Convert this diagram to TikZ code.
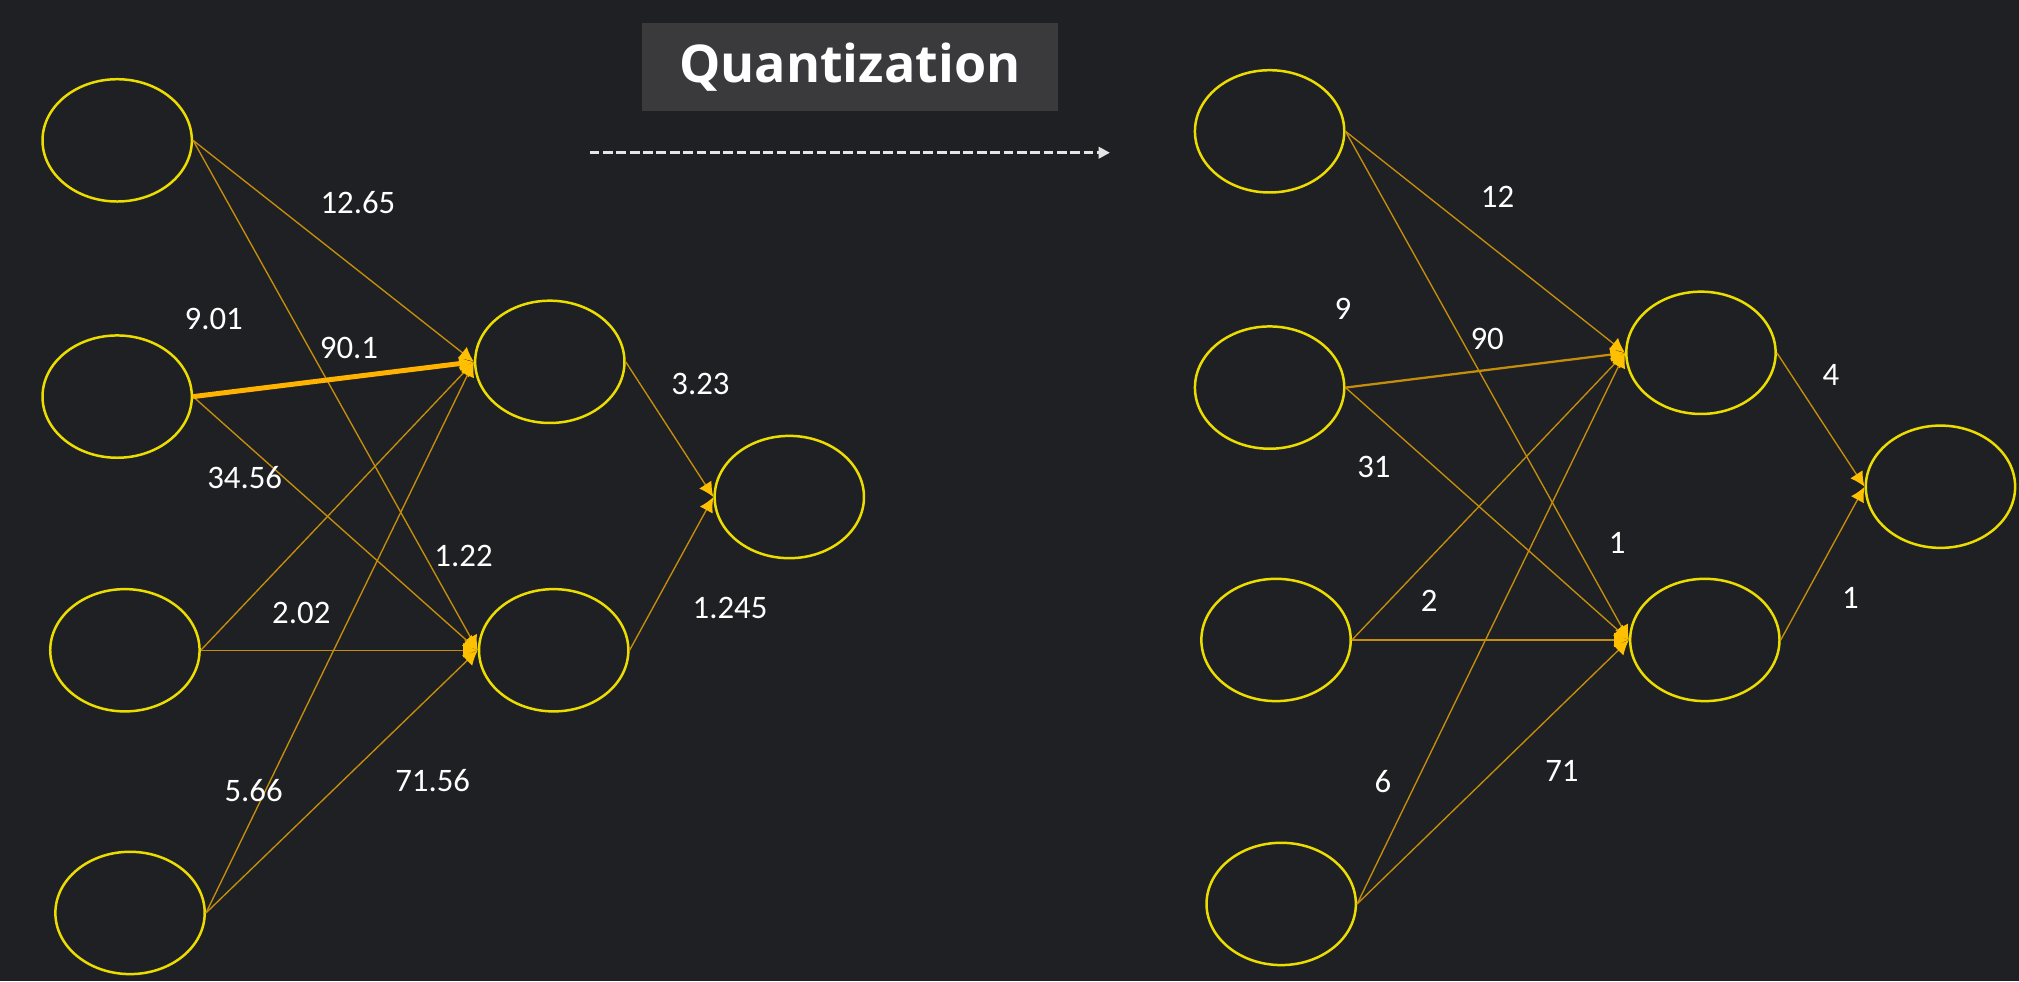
\documentclass[tikz,border=0pt]{standalone}
\usepackage{fontspec}
\setmainfont{Carlito}
\newfontfamily\titlefont{Open Sans}
\usetikzlibrary{shapes.geometric,arrows.meta}
\definecolor{bgcol}{HTML}{1F2023}
\definecolor{boxcol}{HTML}{3A3A3C}
\definecolor{nyellow}{HTML}{ECDD00}
\definecolor{wirecol}{HTML}{C48E0C}
\definecolor{tipcol}{HTML}{FFC000}
\definecolor{boldcol}{HTML}{FFB300}
\tikzset{
    neuron/.style={draw=nyellow,line width=1.1pt,ellipse,minimum width=2.32cm,minimum height=1.9cm,inner sep=0pt},
    wire/.style={draw=wirecol,line width=0.6pt,-{Latex[length=6.5pt,width=6.5pt,color=tipcol]}},
    weight/.style={text=white,inner sep=0pt,font=\fontsize{14.5}{16}\selectfont}
}
\begin{document}
\begin{tikzpicture}[x=0.02cm,y=-0.02cm]
                \useasboundingbox (0,0) rectangle (1568,762);
                \fill[bgcol] (0,0) rectangle (1568,762);
                % title and dashed arrow
                \node[fill=boxcol,minimum width=6.46cm,minimum height=1.37cm,text=white,font=\titlefont\bfseries\fontsize{23}{27}\selectfont] (title) at (660,52) {Quantization};
                \coordinate (qs) at (458,118.6);
                \coordinate (qe) at (862,118.6);
                \draw[white!90!black,line width=1.4pt,dash pattern=on 4.3pt off 1.6pt,-{Triangle[length=5pt,width=5pt]}] (qs) -- (qe);
                % original network
                \node[neuron] (a1) at (91,109) {};
                \node[neuron] (a2) at (91,308) {};
                \node[neuron] (a3) at (97,505) {};
                \node[neuron] (a4) at (101,709) {};
                \node[neuron] (ah1) at (427,281) {};
                \node[neuron] (ah2) at (430,505) {};
                \node[neuron] (ao) at (613,386) {};
                \foreach \s/\t in {a1/ah1,a1/ah2,a2/ah2,a3/ah1,a3/ah2,a4/ah1,a4/ah2}
                    \draw[wire] (\s.east) -- (\t.west);
                \draw[wire,draw=boldcol,line width=2.2pt] (a2.east) -- (ah1.west);
                \draw[wire] (ah1.east) -- (ao.west);
                \draw[wire] (ah2.east) -- (ao.west);
                \node[weight] (wa1) at (278,157) {12.65};
                \node[weight] (wa2) at (166,248) {9.01};
                \node[weight] (wa3) at (271,270) {90.1};
                \node[weight] (wa4) at (190,371) {34.56};
                \node[weight] (wa5) at (360,432) {1.22};
                \node[weight] (wa6) at (234,476) {2.02};
                \node[weight] (wa7) at (197,614) {5.66};
                \node[weight] (wa8) at (336,606) {71.56};
                \node[weight] (wa9) at (544,298) {3.23};
                \node[weight] (wa10) at (567,472) {1.245};
                % quantized network
                \node[neuron] (b1) at (986,102) {};
                \node[neuron] (b2) at (986,301) {};
                \node[neuron] (b3) at (991,497) {};
                \node[neuron] (b4) at (995,702) {};
                \node[neuron] (bh1) at (1321,274) {};
                \node[neuron] (bh2) at (1324,497) {};
                \node[neuron] (bo) at (1507,378) {};
                \foreach \s/\t in {b1/bh1,b1/bh2,b2/bh2,b3/bh1,b3/bh2,b4/bh1,b4/bh2}
                    \draw[wire] (\s.east) -- (\t.west);
                \draw[wire,line width=1pt] (b2.east) -- (bh1.west);
                \draw[wire] (bh1.east) -- (bo.west);
                \draw[wire] (bh2.east) -- (bo.west);
                \node[weight] (wb1) at (1163,153) {12};
                \node[weight] (wb2) at (1043,240) {9};
                \node[weight] (wb3) at (1155,263) {90};
                \node[weight] (wb4) at (1067,363) {31};
                \node[weight] (wb5) at (1256,422) {1};
                \node[weight] (wb6) at (1110,467) {2};
                \node[weight] (wb7) at (1074,607) {6};
                \node[weight] (wb8) at (1213,599) {71};
                \node[weight] (wb9) at (1422,291) {4};
                \node[weight] (wb10) at (1437,464) {1};
            \end{tikzpicture}
\end{document}
